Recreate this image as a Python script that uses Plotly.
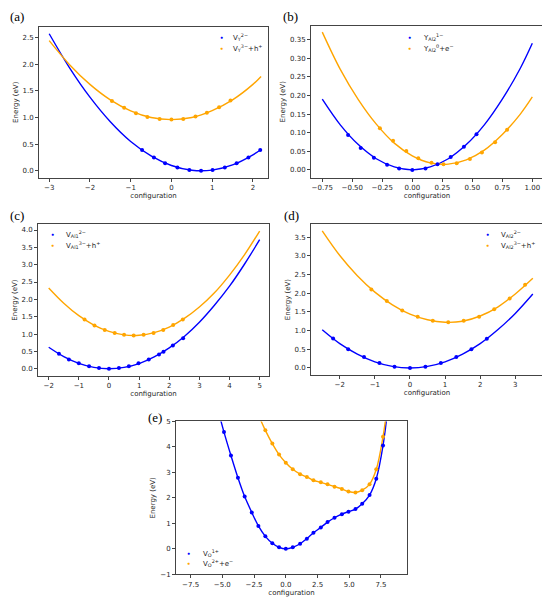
import plotly.graph_objects as go

BLUE = "#0000ff"
ORANGE = "#ffa500"
OFF = 8                     # the page puts the figure 8 px in from the corner
W, H = 550 - OFF, 602 - OFF

# ---- (a) V_Y ----
a_fit_x = [-3, -2.5, -2, -1.5, -1, -0.5, 0, 0.5, 1, 1.5, 2, 2.2]
a_fit_blue = [2.57, 1.93, 1.38, 0.92, 0.55, 0.28, 0.10, 0.01, 0.013, 0.11, 0.30, 0.40]
a_fit_orange = [2.44, 1.99, 1.62, 1.33, 1.125, 1.00, 0.96, 1.00, 1.13, 1.33, 1.62, 1.77]
a_dot_x_blue = [-0.72, -0.43, -0.155, 0.147, 0.44, 0.727, 1.01, 1.31, 1.60, 1.89, 2.18]
a_dot_y_blue = [0.39, 0.25, 0.14, 0.06, 0.015, 0.0, 0.015, 0.06, 0.14, 0.25, 0.39]
a_dot_x_orange = [-1.46, -1.16, -0.87, -0.59, -0.29, 0, 0.29, 0.59, 0.87, 1.17, 1.45]
a_dot_y_orange = [1.31, 1.18, 1.08, 1.01, 0.97, 0.96, 0.97, 1.02, 1.09, 1.19, 1.32]

# ---- (b) Y_Al2 ----
b_fit_x = [-0.75, -0.6, -0.45, -0.3, -0.15, 0, 0.15, 0.3, 0.45, 0.6, 0.75, 0.9, 1.0]
b_fit_blue = [0.19, 0.121, 0.068, 0.030, 0.008, 0.0, 0.008, 0.030, 0.068, 0.121, 0.19, 0.273, 0.34]
b_fit_orange = [0.37, 0.270, 0.189, 0.123, 0.072, 0.038, 0.019, 0.0155, 0.027, 0.053, 0.095, 0.150, 0.196]
b_dot_x_blue = [-0.535, -0.43, -0.32, -0.21, -0.11, 0, 0.11, 0.21, 0.32, 0.43, 0.535]
b_dot_y_blue = [0.094, 0.059, 0.033, 0.014, 0.004, 0.0, 0.004, 0.015, 0.035, 0.062, 0.096]
b_dot_x_orange = [-0.27, -0.16, -0.05, 0.05, 0.16, 0.26, 0.37, 0.48, 0.58, 0.69, 0.79]
b_dot_y_orange = [0.112, 0.078, 0.051, 0.031, 0.019, 0.015, 0.018, 0.029, 0.047, 0.074, 0.108]

# ---- (c) V_Al1 ----
c_fit_x = [-2, -1.5, -1, -0.5, 0, 0.5, 1, 1.5, 2, 2.5, 3, 3.5, 4, 4.5, 5]
c_fit_blue = [0.62, 0.35, 0.155, 0.039, 0.0, 0.038, 0.15, 0.34, 0.60, 0.93, 1.34, 1.83, 2.38, 3.02, 3.72]
c_fit_orange = [2.33, 1.89, 1.53, 1.26, 1.076, 0.978, 0.966, 1.04, 1.20, 1.45, 1.78, 2.19, 2.70, 3.29, 3.97]
c_dot_x_blue = [-1.66, -1.33, -1.0, -0.66, -0.33, 0, 0.33, 0.66, 0.98, 1.32, 1.66, 1.81, 2.12, 2.46]
c_dot_y_blue = [0.43, 0.27, 0.16, 0.07, 0.02, 0.0, 0.02, 0.07, 0.16, 0.27, 0.41, 0.49, 0.67, 0.88]
c_dot_x_orange = [-0.81, -0.48, -0.14, 0.19, 0.50, 0.82, 1.15, 1.48, 1.80, 2.13, 2.45]
c_dot_y_orange = [1.42, 1.25, 1.12, 1.03, 0.98, 0.96, 0.98, 1.03, 1.12, 1.26, 1.42]

# ---- (d) V_Al2 ----
d_fit_x = [-2.5, -2, -1.5, -1, -0.5, 0, 0.5, 1, 1.5, 2, 2.5, 3, 3.5]
d_fit_blue = [1.02, 0.65, 0.37, 0.163, 0.041, 0.0, 0.041, 0.163, 0.37, 0.65, 1.02, 1.46, 1.98]
d_fit_orange = [3.67, 3.01, 2.47, 2.03, 1.69, 1.44, 1.29, 1.222, 1.25, 1.39, 1.63, 1.98, 2.40]
d_dot_x_blue = [-2.19, -1.76, -1.31, -0.87, -0.44, 0, 0.44, 0.88, 1.32, 1.75, 2.19]
d_dot_y_blue = [0.79, 0.50, 0.29, 0.13, 0.035, 0.0, 0.035, 0.13, 0.29, 0.50, 0.78]
d_dot_x_orange = [-1.10, -0.66, -0.22, 0.22, 0.65, 1.09, 1.53, 1.97, 2.40, 2.84, 3.28]
d_dot_y_orange = [2.10, 1.79, 1.54, 1.37, 1.26, 1.22, 1.26, 1.37, 1.57, 1.86, 2.23]

# ---- (e) V_O ----
e_dot_x_blue = [-4.87, -4.32, -3.77, -3.24, -2.68, -2.16, -1.61, -1.06, -0.53, 0, 0.55, 1.13,
                1.66, 2.18, 2.76, 3.29, 3.84, 4.42, 4.94, 5.49, 6.02, 6.6, 7.13, 7.66]
e_dot_y_blue = [4.58, 3.66, 2.79, 2.05, 1.43, 0.90, 0.49, 0.22, 0.06, 0.0, 0.06, 0.20,
                0.40, 0.63, 0.84, 1.05, 1.22, 1.36, 1.46, 1.56, 1.77, 2.11, 2.75, 4.05]
e_dot_x_orange = [-1.61, -1.06, -0.53, 0, 0.55, 1.13, 1.66, 2.18, 2.76, 3.29, 3.84, 4.42,
                  4.94, 5.49, 6.02, 6.6, 7.13, 7.66]
e_dot_y_orange = [4.65, 4.13, 3.70, 3.38, 3.12, 2.93, 2.82, 2.69, 2.61, 2.53, 2.44, 2.35,
                  2.25, 2.21, 2.30, 2.53, 3.12, 4.40]
e_fit_x_blue = [-5.5] + e_dot_x_blue + [8.1]
e_fit_blue = [5.75] + e_dot_y_blue + [5.8]
e_fit_x_orange = [-2.2] + e_dot_x_orange + [8.0]
e_fit_orange = [5.3] + e_dot_y_orange + [5.6]

labels = [
    ("V<sub>Y</sub><sup>2−</sup>", "V<sub>Y</sub><sup>3−</sup>+h<sup>+</sup>"),
    ("Y<sub>Al2</sub><sup>1−</sup>", "Y<sub>Al2</sub><sup>0</sup>+e<sup>−</sup>"),
    ("V<sub>Al1</sub><sup>2−</sup>", "V<sub>Al1</sub><sup>3−</sup>+h<sup>+</sup>"),
    ("V<sub>Al2</sub><sup>2−</sup>", "V<sub>Al2</sub><sup>3−</sup>+h<sup>+</sup>"),
    ("V<sub>O</sub><sup>1+</sup>", "V<sub>O</sub><sup>2+</sup>+e<sup>−</sup>"),
]
letters = ["(a)", "(b)", "(c)", "(d)", "(e)"]

panels = [
    (a_fit_x, a_fit_blue, a_fit_x, a_fit_orange, a_dot_x_blue, a_dot_y_blue, a_dot_x_orange, a_dot_y_orange),
    (b_fit_x, b_fit_blue, b_fit_x, b_fit_orange, b_dot_x_blue, b_dot_y_blue, b_dot_x_orange, b_dot_y_orange),
    (c_fit_x, c_fit_blue, c_fit_x, c_fit_orange, c_dot_x_blue, c_dot_y_blue, c_dot_x_orange, c_dot_y_orange),
    (d_fit_x, d_fit_blue, d_fit_x, d_fit_orange, d_dot_x_blue, d_dot_y_blue, d_dot_x_orange, d_dot_y_orange),
    (e_fit_x_blue, e_fit_blue, e_fit_x_orange, e_fit_orange, e_dot_x_blue, e_dot_y_blue, e_dot_x_orange, e_dot_y_orange),
]


def px(x):
    return (x - OFF) / W


def py(y):
    return 1 - (y - OFF) / H


# frame boxes in window pixels (left, right, top, bottom)
boxes = [(39, 268, 23, 176), (311, 543, 22, 176), (38, 269, 223, 377),
         (311, 543, 223, 376), (176, 407, 423, 578)]
xranges = [[-3.25, 2.37], [-0.844, 1.089], [-2.355, 5.31], [-2.82, 3.79], [-8.65, 9.55]]
yranges = [[-0.13, 2.70], [-0.021, 0.387], [-0.21, 4.17], [-0.19, 3.85], [-1, 5]]
xticks = [dict(dtick=1, tickformat="d"), dict(dtick=0.25, tickformat=".2f"),
          dict(dtick=1, tickformat="d"), dict(dtick=1, tickformat="d"),
          dict(dtick=2.5, tickformat=".1f", tick0=0)]
yticks = [dict(dtick=0.5, tickformat=".1f"), dict(dtick=0.05, tickformat=".2f"),
          dict(dtick=0.5, tickformat=".1f"), dict(dtick=0.5, tickformat=".1f"),
          dict(dtick=1, tickformat="d")]
# legend placement: (dot x, first row y, text x) in window pixels
legends = [(221, 33, 231), (409, 33, 421), (52, 233, 64), (487, 233, 499), (189, 556, 201)]
letter_pos = [(8, 13), (281, 13), (8, 214), (282, 214), (146, 419)]

fig = go.Figure()
tick_font = dict(family="DejaVu Sans", size=7, color="#262626")
axis_common = dict(showline=True, linecolor="#444", linewidth=0.8, mirror=True,
                   ticks="outside", ticklen=3, tickwidth=0.8, tickcolor="#444",
                   showgrid=False, zeroline=False, tickfont=tick_font)

for i, p in enumerate(panels):
    n = "" if i == 0 else str(i + 1)
    xa, ya = "x" + n, "y" + n
    fx_b, fy_b, fx_o, fy_o, dx_b, dy_b, dx_o, dy_o = p
    for fx, fy, col in [(fx_b, fy_b, BLUE), (fx_o, fy_o, ORANGE)]:
        fig.add_trace(go.Scatter(x=fx, y=fy, mode="lines", line=dict(color=col, width=1.4, shape="spline"),
                                 xaxis=xa, yaxis=ya, showlegend=False))
    for dx, dy, col in [(dx_b, dy_b, BLUE), (dx_o, dy_o, ORANGE)]:
        fig.add_trace(go.Scatter(x=dx, y=dy, mode="markers", marker=dict(color=col, size=4),
                                 xaxis=xa, yaxis=ya, showlegend=False))
    l, r, t, b = boxes[i]
    fig.layout["xaxis" + n] = dict(axis_common, domain=[px(l), px(r)], anchor=ya, range=xranges[i],
                                   title=dict(text="configuration", font=tick_font, standoff=1), **xticks[i])
    fig.layout["yaxis" + n] = dict(axis_common, domain=[py(b), py(t)], anchor=xa, range=yranges[i],
                                   title=dict(text="Energy (eV)", font=tick_font, standoff=3), **yticks[i])

    # legend rows
    lx, ly, tx = legends[i]
    for k, (lab, col) in enumerate(zip(labels[i], [BLUE, ORANGE])):
        yy = py(ly + 11 * k)
        fig.add_annotation(x=px(lx), y=yy, xref="paper", yref="paper", text="●", showarrow=False,
                           font=dict(size=5, color=col), xanchor="center", yanchor="middle")
        fig.add_annotation(x=px(tx), y=yy, xref="paper", yref="paper", text=lab, showarrow=False,
                           font=dict(family="DejaVu Sans", size=7, color="#262626"),
                           xanchor="left", yanchor="middle")
    # panel letter
    lx, ly = letter_pos[i]
    fig.add_annotation(x=px(lx), y=py(ly), xref="paper", yref="paper", text=letters[i], showarrow=False,
                       font=dict(family="Liberation Serif", size=13, color="black"),
                       xanchor="left", yanchor="middle")

fig.update_layout(width=W, height=H, margin=dict(l=0, r=0, t=0, b=0),
                  paper_bgcolor="white", plot_bgcolor="white", showlegend=False)
fig.write_html("out.html")
